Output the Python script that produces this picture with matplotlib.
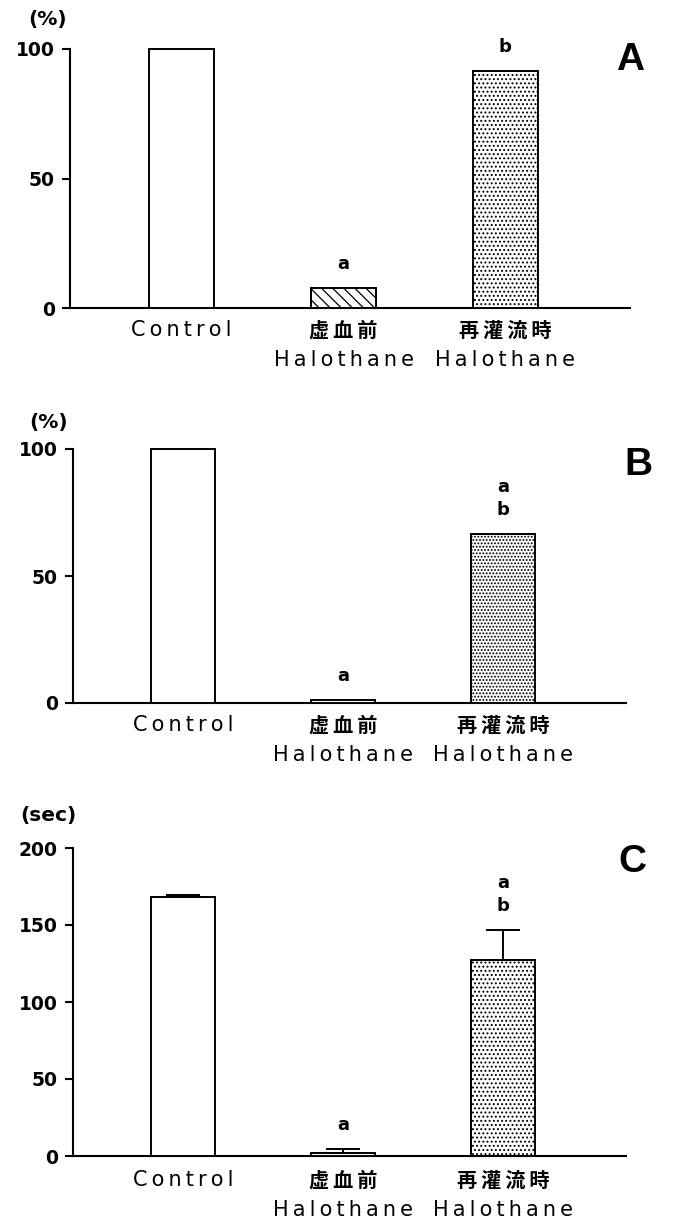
import matplotlib

matplotlib.use("Agg")
import matplotlib.pyplot as plt

plt.rcParams["font.family"] = ["DejaVu Sans", "Noto Sans CJK JP"]
plt.rcParams["hatch.linewidth"] = 0.9

# data -----------------------------------------------------------------------
groups = ["Control", "虚血前", "再灌流時"]
group_sub = ["", "Halothane", "Halothane"]

vals_a = [100.0, 7.7, 91.5]
vals_b = [100.0, 1.0, 66.5]
vals_c = [168.5, 2.0, 127.0]
err_c = [0.8, 2.5, 20.0]

sig_a = ["", "a", "b"]
sig_b = ["", "a", "ab"]
sig_c = ["", "a", "ab"]

W, H = 679, 1222
fig = plt.figure(figsize=(W / 100, H / 100), dpi=100)
CJK = ["Noto Sans CJK JP", "DejaVu Sans"]


def px_axes(x0, x1, y_bottom, y_top):
    return [x0 / W, 1 - y_bottom / H, (x1 - x0) / W, (y_bottom - y_top) / H]


def spaced(s):
    # the scanned labels are letter-spaced; thin spaces come from DejaVu
    return "\u2009".join(s)


def panel(rect, vals, err, sig, ymax, yticks, unit, unit_xy, letter, letter_xy,
          hatches, lab_off):
    ax = fig.add_axes(rect)
    x = range(len(vals))
    bars = ax.bar(x, vals, width=0.40, color="white", edgecolor="black",
                  linewidth=1.4, clip_on=False, zorder=3)
    for b, h in zip(bars, hatches):
        if h:
            b.set_hatch(h)
    tops = list(vals)
    if err is not None:
        ax.errorbar(x, vals, yerr=[[0] * len(vals), err], fmt="none",
                    ecolor="black", elinewidth=1.4, capsize=12, capthick=1.4,
                    clip_on=False, zorder=4)
        tops = [v + e for v, e in zip(vals, err)]
    for i, s in enumerate(sig):
        for k, ch in enumerate(reversed(s)):
            ax.annotate(ch, (i, tops[i]), xytext=(0, 24 + 23 * k),
                        textcoords="offset pixels", ha="center", va="center",
                        fontsize=13, fontweight="bold")
    ax.set_xlim(-0.69, 2.77)
    ax.set_ylim(0, ymax)
    ax.set_yticks(yticks)
    ax.set_yticklabels([str(t) for t in yticks], fontsize=13.5,
                       fontweight="bold")
    ax.set_xticks([])
    for s in ("top", "right"):
        ax.spines[s].set_visible(False)
    for s in ("left", "bottom"):
        ax.spines[s].set_linewidth(1.5)
    ax.tick_params(axis="y", direction="out", length=6, width=1.5, pad=5)
    for i, (g, sub) in enumerate(zip(groups, group_sub)):
        if i == 0:
            ax.annotate(spaced(g), (i, 0), xycoords=("data", "axes fraction"),
                        xytext=(0, -lab_off), textcoords="offset pixels",
                        ha="center", va="center", fontsize=15)
        else:
            ax.annotate(spaced(g), (i, 0), xycoords=("data", "axes fraction"),
                        xytext=(0, -lab_off), textcoords="offset pixels",
                        ha="center", va="center", fontsize=14.5,
                        fontweight="bold", family=CJK)
        if sub:
            ax.annotate(spaced(sub), (i, 0), xycoords=("data", "axes fraction"),
                        xytext=(0, -lab_off - 30), textcoords="offset pixels",
                        ha="center", va="center", fontsize=15)
    fig.text(unit_xy[0] / W, 1 - unit_xy[1] / H, unit, ha="center", va="center",
             fontsize=14.5, fontweight="bold")
    fig.text(letter_xy[0] / W, 1 - letter_xy[1] / H, letter, ha="center",
             va="center", fontsize=28, fontweight="bold",
             family=["Liberation Sans"])
    return ax


panel(px_axes(70, 630, 308, 49), vals_a, None, sig_a, 100, [0, 50, 100],
      "(%)", (48, 20), "A", (630, 60), [None, "\\\\\\", "...."], 22)
panel(px_axes(73, 626, 703, 449), vals_b, None, sig_b, 100, [0, 50, 100],
      "(%)", (49, 422), "B", (638, 465), [None, None, "....."], 22)
panel(px_axes(73, 626, 1156, 848), vals_c, err_c, sig_c, 200,
      [0, 50, 100, 150, 200], "(sec)", (48, 815), "C", (632, 862),
      [None, None, "...."], 24)

fig.savefig("out.png", dpi=100)
